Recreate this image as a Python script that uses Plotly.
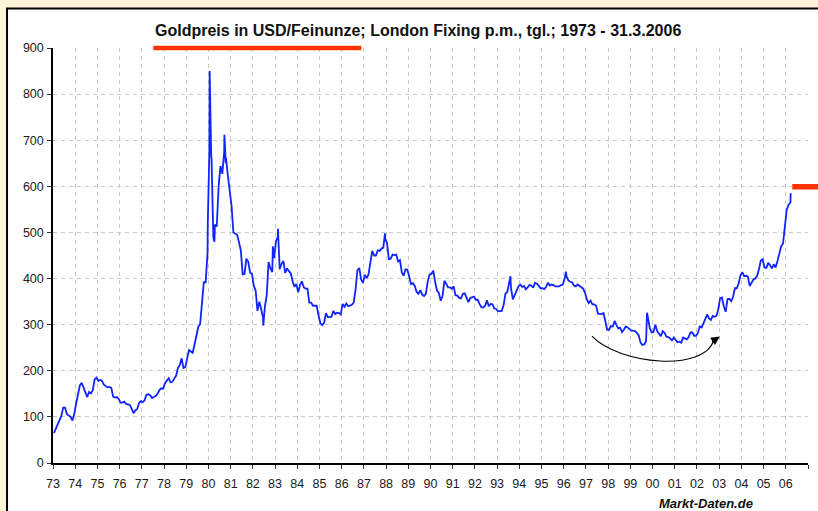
import plotly.graph_objects as go

# Monthly gold prices (USD/oz), Jan 1973 ... Mar 2006
prices_1970s = [
    65, 74, 84, 90, 102, 120, 120, 106, 103, 100, 92, 106,        # 1973
    129, 150, 168, 174, 163, 150, 143, 154, 151, 158, 181, 185,   # 1974
    178, 180, 178, 170, 167, 164, 165, 163, 144, 142, 143, 139,   # 1975
    131, 131, 133, 128, 127, 126, 118, 108, 114, 117, 130, 134,   # 1976
    132, 136, 148, 149, 147, 141, 143, 145, 150, 158, 162, 161,   # 1977
    173, 178, 184, 175, 176, 183, 189, 206, 212, 227, 206, 208,   # 1978
    227, 245, 242, 239, 257, 279, 295, 301, 355, 392, 392, 456,   # 1979
]
prices_1980s = [
    675, 665, 553, 517, 513, 600, 644, 627, 674, 661, 623, 594,   # 1980
    557, 500, 498, 495, 479, 461, 409, 410, 443, 437, 413, 410,   # 1981
    384, 374, 330, 350, 334, 315, 339, 364, 436, 422, 414, 444,   # 1982
    481, 491, 420, 432, 438, 412, 422, 416, 411, 394, 382, 388,   # 1983
    370, 386, 394, 381, 378, 378, 348, 348, 341, 341, 341, 320,   # 1984
    303, 299, 304, 325, 316, 317, 317, 330, 323, 326, 325, 322,   # 1985
    345, 339, 346, 340, 342, 343, 348, 376, 418, 423, 398, 391,   # 1986
    408, 401, 409, 438, 460, 450, 450, 461, 460, 465, 467, 487,   # 1987
    477, 442, 443, 452, 451, 452, 437, 440, 413, 406, 420, 419,   # 1988
    404, 388, 390, 384, 371, 367, 375, 365, 362, 367, 394, 409,   # 1989
]
prices_1990s = [
    410, 417, 393, 374, 369, 352, 362, 395, 389, 381, 381, 378,   # 1990
    383, 364, 363, 358, 357, 367, 368, 356, 349, 358, 360, 361,   # 1991
    354, 354, 345, 338, 337, 341, 353, 340, 345, 344, 335, 334,   # 1992
    329, 329, 330, 342, 367, 371, 392, 379, 355, 364, 373, 383,   # 1993
    387, 382, 384, 377, 381, 386, 385, 380, 391, 389, 384, 379,   # 1994
    379, 377, 382, 391, 385, 387, 386, 383, 383, 383, 386, 387,   # 1995
    400, 405, 396, 393, 392, 385, 383, 387, 383, 381, 378, 369,   # 1996
    355, 347, 352, 344, 344, 341, 324, 324, 323, 325, 306, 289,   # 1997
    289, 297, 296, 308, 299, 292, 293, 284, 289, 296, 294, 291,   # 1998
    287, 287, 286, 282, 277, 261, 256, 257, 264, 311, 293, 283,   # 1999
]
prices_2000s = [
    284, 300, 286, 280, 275, 286, 282, 274, 273, 270, 266, 272,   # 2000
    266, 262, 263, 261, 272, 270, 268, 273, 283, 283, 276, 276,   # 2001
    282, 296, 294, 303, 314, 322, 314, 310, 319, 317, 319, 333,   # 2002
    357, 359, 340, 328, 355, 356, 351, 360, 379, 379, 389, 407,   # 2003
    414, 405, 406, 404, 384, 392, 398, 400, 406, 420, 439, 442,   # 2004
    424, 423, 434, 429, 422, 431, 424, 438, 456, 470, 476, 510,   # 2005
    549, 560, 565,                                                 # 2006
]

# Short-lived extremes visible in the daily series
spike_dates = [1979.97, 1980.055, 1980.09, 1980.14, 1980.22, 1980.27, 1980.72,
               1980.78, 1982.47, 1982.9, 1983.13, 1987.95, 1993.6, 1996.1,
               1999.75, 2006.22]
spike_prices = [520, 850, 690, 660, 490, 480, 712, 650, 298, 470, 508, 498,
                405, 415, 326, 585]

year_ticks = list(range(1973, 2008))
tick_labels = [f"{y % 100:02d}" for y in range(1973, 2007)] + [""]

monthly = prices_1970s + prices_1980s + prices_1990s + prices_2000s
month_dates = [1973 + (i + 0.5) / 12 for i in range(len(monthly))]
pairs = sorted(zip(month_dates + spike_dates, monthly + spike_prices))
xs = [p[0] for p in pairs]
ys = [p[1] for p in pairs]

FONT = "Arial, Liberation Sans, sans-serif"
CREAM = "#fff4da"

fig = go.Figure()
fig.add_trace(go.Scatter(x=xs, y=ys, mode="lines",
                         line=dict(color="#1024ff", width=1.8),
                         hoverinfo="skip", showlegend=False))

shapes = [
    # white panel with black frame
    dict(type="rect", xref="paper", yref="paper", x0=-0.0609, x1=1.2,
         y0=-0.3, y1=1.0952, fillcolor="white",
         line=dict(color="black", width=2), layer="below"),
    # red marker lines
    dict(type="line", xref="paper", yref="paper", x0=0.1328, x1=0.4083,
         y0=1.0, y1=1.0, line=dict(color="#ff3300", width=4.5), layer="above"),
    dict(type="line", xref="paper", yref="paper", x0=0.9792, x1=1.05,
         y0=0.6658, y1=0.6658, line=dict(color="#ff3300", width=5.5), layer="above"),
    # curved arrow
    dict(type="path", xref="x", yref="y",
         path="M 1997.27,275 C 1998.53,212 2002.36,197 2002.76,267",
         line=dict(color="black", width=1.1), layer="above"),
]

annotations = [
    dict(text="<b>Goldpreis in USD/Feinunze; London Fixing p.m., tgl.; 1973 - 31.3.2006</b>",
         xref="paper", yref="paper", x=0.4828, y=1.041, showarrow=False,
         font=dict(family=FONT, size=16, color="#111111"),
         xanchor="center", yanchor="middle"),
    dict(text="<b><i>Markt-Daten.de</i></b>", xref="paper", yref="paper",
         x=0.865, y=-0.0964, showarrow=False,
         font=dict(family=FONT, size=13, color="#111111"),
         xanchor="center", yanchor="middle"),
    dict(text="", x=2003.03, y=274.5, xref="x", yref="y", showarrow=True,
         ax=-9, ay=6, arrowhead=2, arrowsize=1.6, arrowwidth=1.1,
         arrowcolor="black"),
]

fig.update_layout(
    width=818, height=511,
    margin=dict(l=53, r=10, t=48, b=48),
    paper_bgcolor=CREAM,
    plot_bgcolor="white",
    font=dict(family=FONT, size=12, color="#222222"),
    shapes=shapes,
    annotations=annotations,
    xaxis=dict(range=[1973, 2007], tickmode="array", tickvals=year_ticks,
               ticktext=tick_labels, showgrid=True, gridcolor="#c8c8c8",
               griddash="4px,4px", gridwidth=1, showline=True,
               linecolor="black", linewidth=1.5, ticks="outside", ticklen=4,
               tickcolor="#333333", zeroline=False, fixedrange=True,
               ticklabelstandoff=4,
               tickfont=dict(size=12.5, color="#1a1a1a")),
    yaxis=dict(range=[0, 900], tickmode="linear", tick0=0, dtick=100,
               showgrid=True, gridcolor="#c8c8c8", griddash="4px,4px",
               gridwidth=1, showline=True, linecolor="black", linewidth=1.5,
               ticks="outside", ticklen=4, tickcolor="#333333",
               zeroline=False, fixedrange=True, ticklabelstandoff=1,
               tickfont=dict(size=12.5, color="#1a1a1a")),
)

fig.write_html(
    "out.html",
    config={"displayModeBar": False},
    post_script="document.body.style.margin='0';"
                "document.body.style.background='" + CREAM + "';"
                "document.body.style.overflow='hidden';",
)
